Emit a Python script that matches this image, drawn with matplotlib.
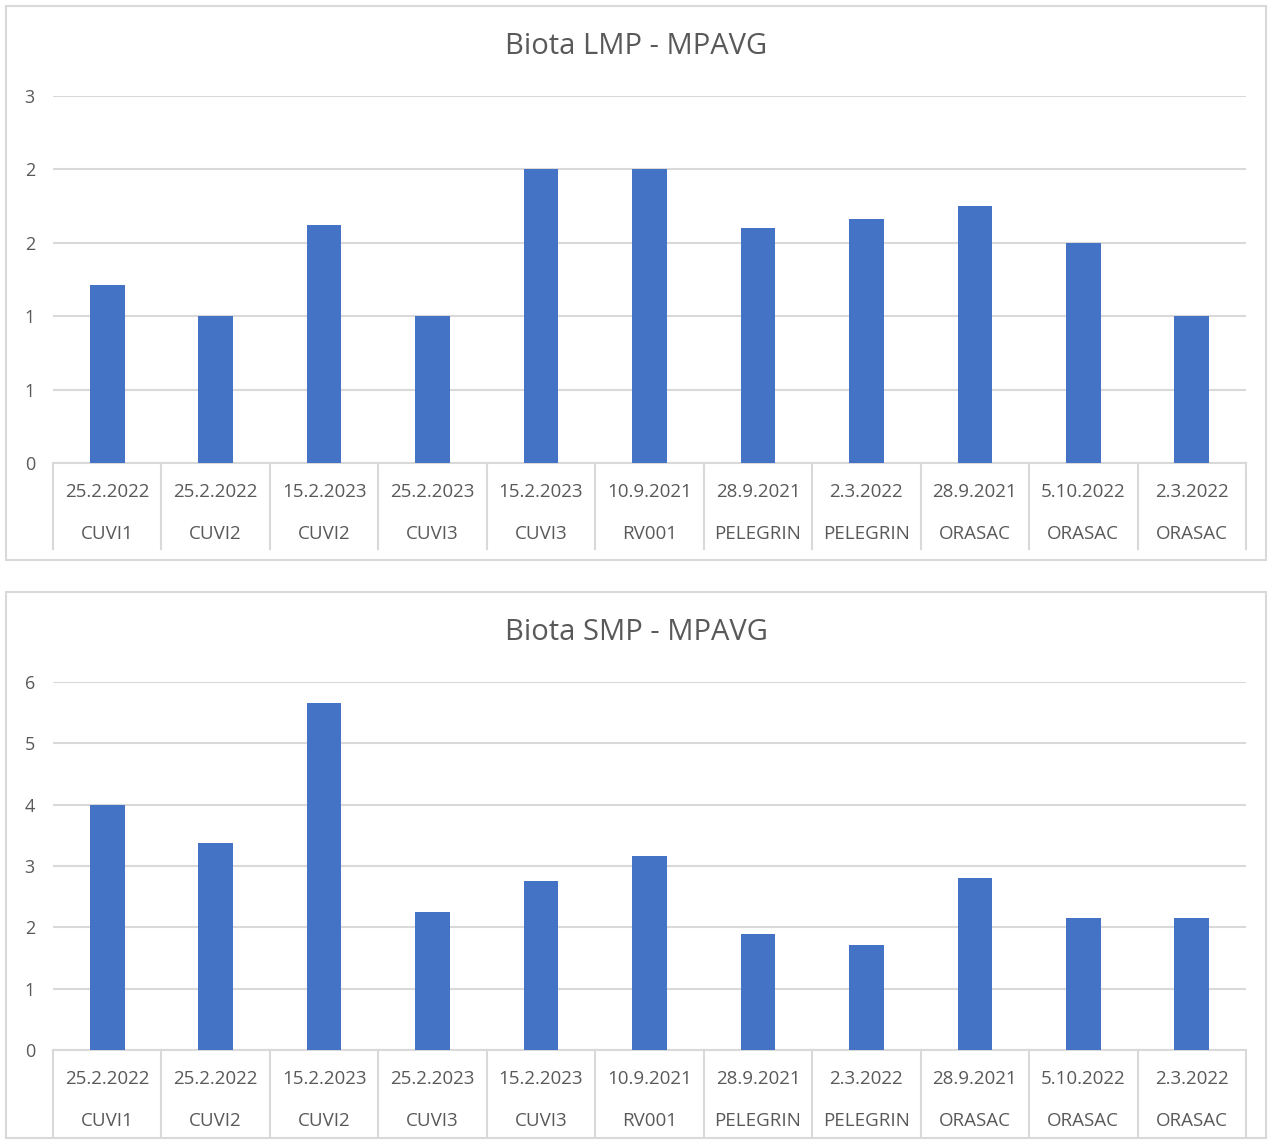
import matplotlib.pyplot as plt
from matplotlib.patches import Rectangle
from matplotlib.transforms import blended_transform_factory

# podaci
datumi = ['25.2.2022', '25.2.2022', '15.2.2023', '25.2.2023', '15.2.2023', '10.9.2021',
          '28.9.2021', '2.3.2022', '28.9.2021', '5.10.2022', '2.3.2022']
lokacije = ['CUVI1', 'CUVI2', 'CUVI2', 'CUVI3', 'CUVI3', 'RV001',
            'PELEGRIN', 'PELEGRIN', 'ORASAC', 'ORASAC', 'ORASAC']
lmp = [1.21, 1.0, 1.62, 1.0, 2.0, 2.0, 1.60, 1.66, 1.75, 1.5, 1.0]
smp = [4.0, 3.37, 5.66, 2.25, 2.76, 3.16, 1.89, 1.71, 2.80, 2.15, 2.15]

lmp_ticks = [0, 0.5, 1.0, 1.5, 2.0, 2.5]
lmp_tick_labels = ['0', '1', '1', '2', '2', '3']
smp_ticks = [0, 1, 2, 3, 4, 5, 6]
smp_tick_labels = ['0', '1', '2', '3', '4', '5', '6']

W, H = 1268, 1141
plava = '#4472C4'
siva_tekst = '#595959'
siva_linija = '#D9D9D9'

plt.rcParams['font.family'] = ['Open Sans', 'DejaVu Sans']

fig = plt.figure(figsize=(W / 100, H / 100), dpi=100)


def px(x0, y0, x1, y1):
    return [x0 / W, 1 - y1 / H, (x1 - x0) / W, (y1 - y0) / H]


def grafikon(okvir, plot, naslov, vrijednosti, ticks, tick_labels, naslov_y):
    # okvir grafikona
    fig.patches.append(Rectangle((okvir[0] / W, 1 - okvir[3] / H),
                                 (okvir[2] - okvir[0]) / W, (okvir[3] - okvir[1]) / H,
                                 transform=fig.transFigure, fill=False,
                                 edgecolor=siva_linija, linewidth=1.5))
    fig.text(0.5 * (okvir[0] + okvir[2]) / W, 1 - naslov_y / H, naslov,
             ha='center', va='center', fontsize=21, color=siva_tekst)

    ax = fig.add_axes(px(*plot))
    x = range(len(vrijednosti))
    ax.bar(x, vrijednosti, width=0.32, color=plava, zorder=3)
    ax.set_xlim(-0.5, len(vrijednosti) - 0.5)
    ax.set_ylim(0, ticks[-1])
    ax.set_yticks(ticks)
    ax.set_yticklabels(tick_labels)
    ax.tick_params(axis='y', length=0, pad=13, labelsize=13, labelcolor=siva_tekst)
    ax.set_xticks([])
    ax.grid(axis='y', color=siva_linija, linewidth=1.5, zorder=0)
    for s in ['top', 'right', 'left']:
        ax.spines[s].set_visible(False)
    ax.spines['bottom'].set_color(siva_linija)
    ax.spines['bottom'].set_linewidth(1.5)

    # dvorazinske oznake kategorija
    visina = plot[3] - plot[1]
    tr = blended_transform_factory(ax.transData, ax.transAxes)
    dno = -86 / visina
    for i in range(len(vrijednosti) + 1):
        ax.plot([i - 0.5, i - 0.5], [0, dno], transform=tr, color=siva_linija,
                linewidth=1.5, clip_on=False)
    for i, (d, l) in enumerate(zip(datumi, lokacije)):
        ax.text(i, -29 / visina, d, transform=tr, ha='center', va='center',
                fontsize=13.5, color=siva_tekst)
        ax.text(i, -71 / visina, l, transform=tr, ha='center', va='center',
                fontsize=13.5, color=siva_tekst)
    return ax


grafikon((6, 6, 1266, 560), (53, 96, 1246, 463), 'Biota LMP - MPAVG',
         lmp, lmp_ticks, lmp_tick_labels, 46)
grafikon((6, 592, 1266, 1138), (53, 682, 1246, 1050), 'Biota SMP - MPAVG',
         smp, smp_ticks, smp_tick_labels, 633)

fig.savefig('out.png', dpi=100, facecolor='white')
